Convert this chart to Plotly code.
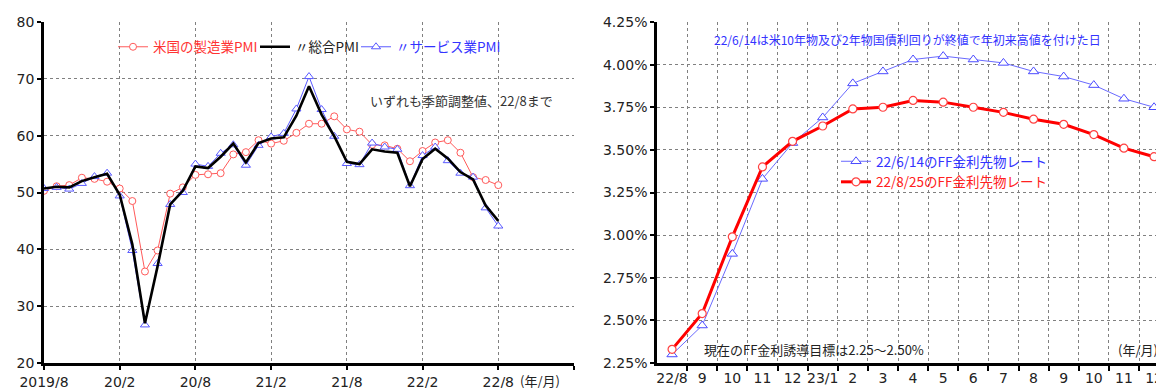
import plotly.graph_objects as go

# ---------------- Left chart data (US PMI) ----------------
months = ["2019/8", "2019/9", "2019/10", "2019/11", "2019/12",
          "2020/1", "2020/2", "2020/3", "2020/4", "2020/5", "2020/6", "2020/7",
          "2020/8", "2020/9", "2020/10", "2020/11", "2020/12",
          "2021/1", "2021/2", "2021/3", "2021/4", "2021/5", "2021/6", "2021/7",
          "2021/8", "2021/9", "2021/10", "2021/11", "2021/12",
          "2022/1", "2022/2", "2022/3", "2022/4", "2022/5", "2022/6", "2022/7", "2022/8"]
manufacturing = [50.3, 51.1, 51.3, 52.6, 52.4, 51.9, 50.7, 48.5, 36.1, 39.8, 49.8, 50.9,
                 53.1, 53.2, 53.4, 56.7, 57.1, 59.2, 58.6, 59.1, 60.5, 62.1, 62.1, 63.4,
                 61.1, 60.7, 58.4, 58.3, 57.7, 55.5, 57.3, 58.8, 59.2, 57.0, 52.7, 52.2, 51.3]
composite = [50.7, 51.0, 50.9, 52.0, 52.7, 53.3, 49.6, 40.9, 27.0, 37.0, 47.9, 50.3,
             54.6, 54.3, 56.3, 58.6, 55.3, 58.7, 59.5, 59.7, 63.5, 68.7, 63.7, 59.9,
             55.4, 55.0, 57.6, 57.2, 57.0, 51.1, 55.9, 57.7, 56.0, 53.6, 52.3, 47.7, 45.0]
services = [50.7, 50.9, 50.6, 51.6, 52.8, 53.4, 49.4, 39.8, 26.7, 37.5, 47.9, 50.0,
            55.0, 54.6, 56.9, 58.4, 54.8, 58.3, 59.8, 60.4, 64.7, 70.4, 64.6, 59.9,
            55.1, 54.9, 58.7, 58.0, 57.6, 51.2, 56.5, 58.0, 55.6, 53.4, 52.7, 47.3, 44.1]
left_tick_labels = ["2019/8", "20/2", "20/8", "21/2", "21/8", "22/2", "22/8", ""]

# ---------------- Right chart data (FF futures) ----------------
contract_labels = ["22/8", "9", "10", "11", "12", "23/1", "2", "3", "4", "5", "6",
                   "7", "8", "9", "10", "11", "12"]
ff_0614 = [2.30, 2.47, 2.89, 3.33, 3.54, 3.69, 3.89, 3.96, 4.03, 4.05, 4.03,
           4.01, 3.96, 3.93, 3.88, 3.80, 3.75]
ff_0825 = [2.33, 2.54, 2.99, 3.40, 3.55, 3.64, 3.74, 3.75, 3.79, 3.78, 3.75,
           3.72, 3.68, 3.65, 3.59, 3.51, 3.46]

# page has an 8px body margin, so the figure is offset by 8px
OFF = 8
W, H = 1164 - OFF, 388 - OFF
TOP, BOTTOM = 22 - OFF, 363 - OFF
def px_x(p):
    return (p - OFF) / W
def px_y(p):
    return (BOTTOM - (p - OFF)) / (BOTTOM - TOP)

RED_L = "#ff5a5a"
BLUE_L = "#5a5aff"
GRID = "#808080"
TICKFONT = dict(family="DejaVu Sans, Noto Sans CJK JP", size=14, color="#222222")
JP = "Noto Sans CJK JP, DejaVu Sans"
LEG_TEXT_OFFSET = 39  # distance from legend x to start of its text

xi = list(range(len(months)))
ci = list(range(len(contract_labels)))

fig = go.Figure()

fig.add_trace(go.Scatter(
    x=xi, y=manufacturing, mode="lines+markers",
    name="<span style='color:#ff3333'>米国の製造業PMI</span>",
    line=dict(color=RED_L, width=1),
    marker=dict(symbol="circle", size=7, color="white", line=dict(color=RED_L, width=1)),
    xaxis="x", yaxis="y", legend="legend", showlegend=True))
fig.add_trace(go.Scatter(
    x=xi, y=services, mode="lines+markers",
    name="<span style='color:#3333ff'>〃サービス業PMI</span>",
    line=dict(color=BLUE_L, width=1),
    marker=dict(symbol="triangle-up", size=8, color="white", line=dict(color=BLUE_L, width=1)),
    xaxis="x", yaxis="y", legend="legend3", showlegend=True))
fig.add_trace(go.Scatter(
    x=xi, y=composite, mode="lines",
    name="<span style='color:#222222'>〃総合PMI</span>",
    line=dict(color="black", width=2.6),
    xaxis="x", yaxis="y", legend="legend2", showlegend=True))

fig.add_trace(go.Scatter(
    x=ci, y=ff_0614, mode="lines+markers",
    name="<span style='color:#3333ff'>22/6/14のFF金利先物レート</span>",
    line=dict(color="#6a6aff", width=1),
    marker=dict(symbol="triangle-up", size=9, color="white", line=dict(color="#4b4bff", width=1)),
    xaxis="x2", yaxis="y2", legend="legend4", showlegend=True))
fig.add_trace(go.Scatter(
    x=ci, y=ff_0825, mode="lines+markers",
    name="<span style='color:#ff2020'>22/8/25のFF金利先物レート</span>",
    line=dict(color="#ff0000", width=3),
    marker=dict(symbol="circle", size=8, color="white", line=dict(color="#ff4040", width=1.2)),
    xaxis="x2", yaxis="y2", legend="legend4", showlegend=True))

axis_common = dict(showline=True, linecolor="black", linewidth=2.5, zeroline=False,
                   gridcolor=GRID, griddash="dot", gridwidth=1, tickfont=TICKFONT,
                   ticks="outside", ticklen=4, tickwidth=2, tickcolor="black",
                   automargin=False)

def leg(text_x, text_y, orientation="h"):
    return dict(orientation=orientation, x=px_x(text_x - LEG_TEXT_OFFSET), xanchor="left",
                y=px_y(text_y), yanchor="middle", bgcolor="rgba(0,0,0,0)",
                font=dict(family=JP, size=13.5), itemwidth=30, tracegroupgap=0,
                traceorder="normal", visible=True)

fig.update_layout(
    width=W, height=H,
    showlegend=True,
    margin=dict(l=0, r=0, t=TOP, b=H - BOTTOM, autoexpand=False),
    paper_bgcolor="white", plot_bgcolor="white",
    xaxis=dict(domain=[px_x(44), px_x(574)], range=[0, 42],
               tickmode="array", tickvals=list(range(0, 43, 6)), ticktext=left_tick_labels,
               showgrid=True, anchor="y", **axis_common),
    yaxis=dict(range=[20, 80], dtick=10, showgrid=True, anchor="x", **axis_common),
    xaxis2=dict(domain=[px_x(657), 1.0], range=[-0.5, 16.33],
                tickmode="array", tickvals=ci, ticktext=contract_labels,
                showgrid=False, anchor="y2", automargin=False,
                showline=True, linecolor="black", linewidth=2.5, zeroline=False,
                tickfont=TICKFONT, ticks="",
                minor=dict(tickvals=[k + 0.5 for k in ci], showgrid=True, gridcolor=GRID,
                           griddash="dot", gridwidth=1, ticks="outside", ticklen=5,
                           tickwidth=2, tickcolor="black")),
    yaxis2=dict(range=[2.25, 4.25], dtick=0.25, tickformat=".2f", ticksuffix="%",
                showgrid=True, anchor="x2", **axis_common),
    legend=leg(152, 47),
    legend2=leg(294, 47),
    legend3=leg(395, 47),
    legend4=leg(875, 172, "v"),
    annotations=[
        dict(text="いずれも季節調整値、22/8まで", xref="paper", yref="paper",
             x=px_x(368), y=px_y(100), xanchor="left", yanchor="middle", showarrow=False,
             font=dict(family=JP, size=13, color="#333333")),
        dict(text="(年/月)", xref="paper", yref="paper",
             x=px_x(518), y=px_y(380), xanchor="left", yanchor="middle", showarrow=False,
             font=dict(family=JP, size=13, color="#222222")),
        dict(text="22/6/14は米10年物及び2年物国債利回りが終値で年初来高値を付けた日",
             xref="paper", yref="paper", x=px_x(712), y=px_y(40), xanchor="left",
             yanchor="middle", showarrow=False,
             font=dict(family=JP, size=12, color="#3333ff")),
        dict(text="現在のFF金利誘導目標は2.25～2.50%", xref="paper", yref="paper",
             x=px_x(702), y=px_y(349), xanchor="left", yanchor="middle", showarrow=False,
             font=dict(family=JP, size=13, color="#222222")),
        dict(text="(年/月)", xref="paper", yref="paper",
             x=px_x(1160), y=px_y(349), xanchor="right", yanchor="middle", showarrow=False,
             font=dict(family=JP, size=13, color="#222222")),
    ],
)

fig.write_html("out.html")
